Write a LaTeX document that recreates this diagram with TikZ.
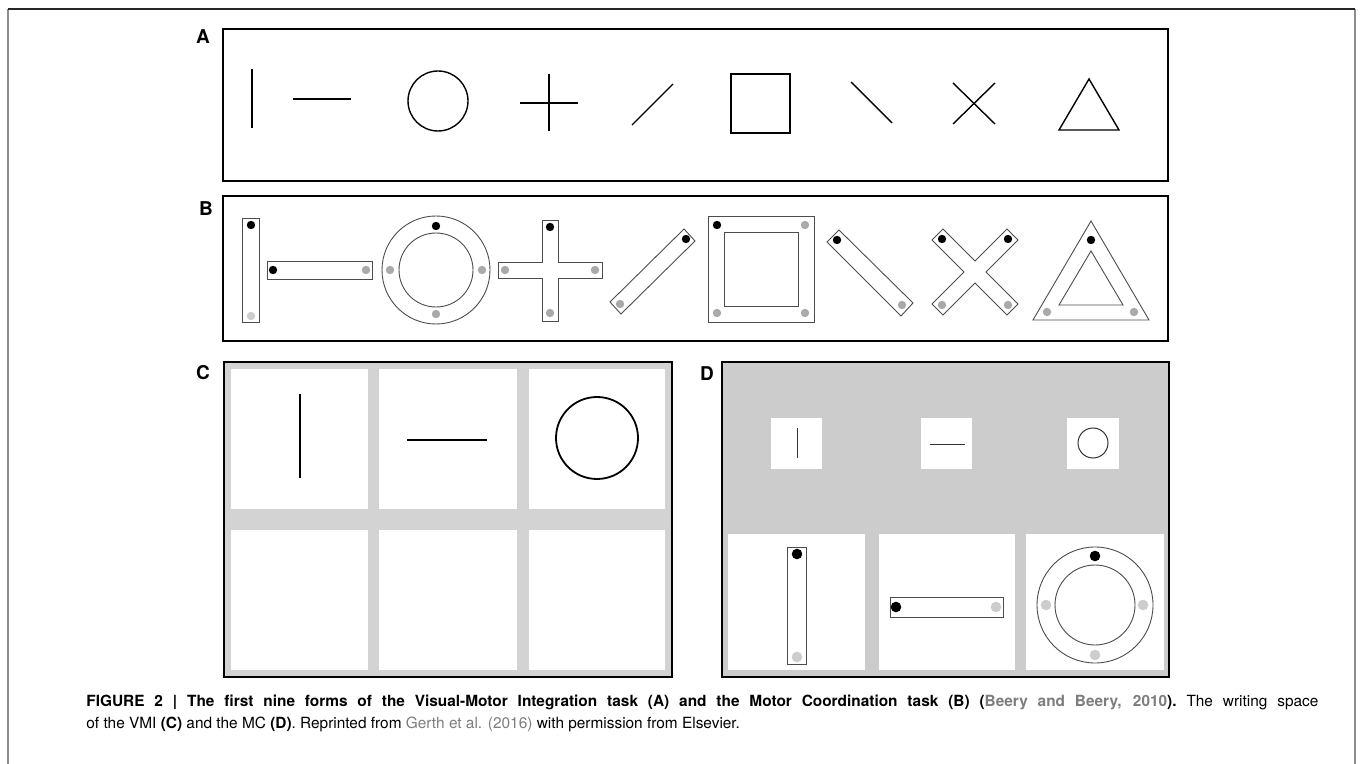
\documentclass[tikz,border=0pt]{standalone}
\usepackage{fontspec}
\setmainfont{TeX Gyre Heros}
\usepackage{xcolor}
\definecolor{cellgrey}{HTML}{D3D3D3}
\definecolor{sheetgrey}{HTML}{CCCCCC}
\definecolor{dotgrey}{HTML}{A9A9A9}
\definecolor{palegrey}{HTML}{CDCDCD}
\definecolor{linkgrey}{HTML}{7D7D7D}
\definecolor{framegrey}{HTML}{8C8C8C}

\begin{document}
\begin{tikzpicture}[x=0.5pt,y=-0.5pt,
  panelbox/.style={draw=black,line width=1.2pt},
  formline/.style={draw=black,line width=0.7pt},
  stencil/.style={draw=black!70,line width=0.45pt},
  blackdot/.style={fill=black},
  greydot/.style={fill=dotgrey},
  panellabel/.style={font=\fontsize{9.5}{11}\selectfont\bfseries,inner sep=0pt},
  captext/.style={anchor=base west,inner sep=0pt,font=\fontsize{7.7}{10}\selectfont}]
\useasboundingbox (0,0) rectangle (1360,764);
\draw[framegrey,line width=0.6pt] (8,764) -- (8,9);
\draw[framegrey,line width=0.6pt] (1355,764) -- (1355,9);
\draw[black!85,line width=0.6pt] (8,9) -- (1355,9);

% A
\node[panellabel] (labA) at (203,37) {A};
\draw[panelbox] (223,29) rectangle (1168,181);
\draw[formline] (252,69) -- (252,128);
\draw[formline] (293,99) -- (351,99);
\draw[formline] (438,101) circle (30);
\draw[formline] (520,103) -- (578,103);
\draw[formline] (549,74) -- (549,131);
\draw[formline] (632,125) -- (673,84);
\draw[formline] (731,74) rectangle (790,133);
\draw[formline] (851,82) -- (892,123);
\draw[formline] (953,83) -- (995,124);
\draw[formline] (953,124) -- (995,83);
\draw[formline] (1059,130) -- (1119,130) -- (1089,79) -- cycle;

% B
\node[panellabel] (labB) at (206,209) {B};
\draw[panelbox] (223,196) rectangle (1168,341);
\draw[stencil] (242,218) rectangle (259,322);
\path[blackdot] (251,225) circle (4.2);
\path[fill=palegrey] (251,316) circle (4.2);
\draw[stencil] (267,261) rectangle (372,279);
\path[blackdot] (273,270) circle (4.2);
\path[greydot] (366,270) circle (4.2);
\draw[stencil] (436,270) circle (54);
\draw[stencil] (436,270) circle (37);
\path[blackdot] (436,226) circle (4.2);
\path[greydot] (390,270) circle (4.2);
\path[greydot] (482,270) circle (4.2);
\path[greydot] (436,314) circle (4.2);
\draw[stencil] (542,220) -- (558,220) -- (558,262) -- (602,262) -- (602,278) -- (558,278)
  -- (558,321) -- (542,321) -- (542,278) -- (498,278) -- (498,262) -- (542,262) -- cycle;
\path[blackdot] (550,227) circle (4.2);
\path[greydot] (505,270) circle (4.2);
\path[greydot] (595,270) circle (4.2);
\path[greydot] (550,313) circle (4.2);
\draw[stencil] (610,302) -- (684,229) -- (695,241) -- (621,314) -- cycle;
\path[blackdot] (686,239) circle (4.2);
\path[greydot] (620,304) circle (4.2);
\draw[stencil] (708,216) rectangle (814,322);
\draw[stencil] (724,232) rectangle (798,306);
\path[blackdot] (717,225) circle (4.2);
\path[greydot] (805,225) circle (4.2);
\path[greydot] (717,313) circle (4.2);
\path[greydot] (805,313) circle (4.2);
\draw[stencil] (827,242) -- (839,230) -- (913,303) -- (901,316) -- cycle;
\path[blackdot] (837,240) circle (4.2);
\path[greydot] (902,305) circle (4.2);
\draw[stencil] (932,240) -- (943,229) -- (975,261) -- (1007,229) -- (1018,240) -- (986,272)
  -- (1018,304) -- (1007,315) -- (975,283) -- (943,315) -- (932,304) -- (964,272) -- cycle;
\path[blackdot] (942,239) circle (4.2);
\path[blackdot] (1008,239) circle (4.2);
\path[greydot] (942,305) circle (4.2);
\path[greydot] (1008,305) circle (4.2);
\draw[stencil] (1033,320) -- (1149,320) -- (1091,221) -- cycle;
\draw[stencil] (1059,305) -- (1123,305) -- (1091,251) -- cycle;
\path[blackdot] (1091,240) circle (4.2);
\path[greydot] (1047,312) circle (4.2);
\path[greydot] (1134,312) circle (4.2);

% C
\node[panellabel] (labC) at (203,373) {C};
\fill[cellgrey] (224,362) rectangle (672,677);
\fill[white] (231,369) rectangle (368,509);
\fill[white] (379,369) rectangle (517,509);
\fill[white] (529,369) rectangle (665,509);
\fill[white] (231,530) rectangle (368,670);
\fill[white] (379,530) rectangle (517,670);
\fill[white] (529,530) rectangle (665,670);
\draw[panelbox] (224,362) rectangle (672,677);
\draw[formline,line width=0.9pt] (300,394) -- (300,478);
\draw[formline,line width=0.9pt] (407,440) -- (487,440);
\draw[formline,line width=0.9pt] (597,438) circle (41);

% D
\node[panellabel] (labD) at (707,374) {D};
\fill[sheetgrey] (722,362) rectangle (1169,677);
\fill[white] (771,418) rectangle (822,469);
\fill[white] (921,418) rectangle (972,469);
\fill[white] (1067,418) rectangle (1119,469);
\fill[white] (728,534) rectangle (865,670);
\fill[white] (879,534) rectangle (1015,670);
\fill[white] (1026,534) rectangle (1164,670);
\draw[panelbox] (722,362) rectangle (1169,677);
\draw[draw=black!80,line width=0.5pt] (797,428) -- (797,458);
\draw[draw=black!80,line width=0.5pt] (930,445) -- (965,445);
\draw[draw=black!80,line width=0.5pt] (1093,443) circle (15);
\draw[stencil] (787,547) rectangle (806,664);
\path[blackdot] (797,554) circle (5.3);
\path[fill=palegrey] (797,657) circle (5.3);
\draw[stencil] (890,597) rectangle (1003,617);
\path[blackdot] (896,607) circle (5.3);
\path[fill=palegrey] (996,607) circle (5.3);
\draw[stencil] (1095,605) circle (58);
\draw[stencil] (1095,605) circle (40);
\path[blackdot] (1095,556) circle (5.3);
\path[fill=palegrey] (1046,605) circle (5.3);
\path[fill=palegrey] (1143,605) circle (5.3);
\path[fill=palegrey] (1095,655) circle (5.3);

\node[captext] (capA) at (86,706) {\hbox to 616pt{\bfseries FIGURE 2 | The first nine forms of the Visual-Motor Integration task (A) and the Motor Coordination task (B) (\textcolor{linkgrey}{Beery and Beery, 2010}).\mdseries\ The writing space}};
\node[captext] (capB) at (86,728) {of the VMI \textbf{(C)} and the MC \textbf{(D)}. Reprinted from \textcolor{linkgrey}{Gerth et al. (2016)} with permission from Elsevier.};
\end{tikzpicture}
\end{document}
